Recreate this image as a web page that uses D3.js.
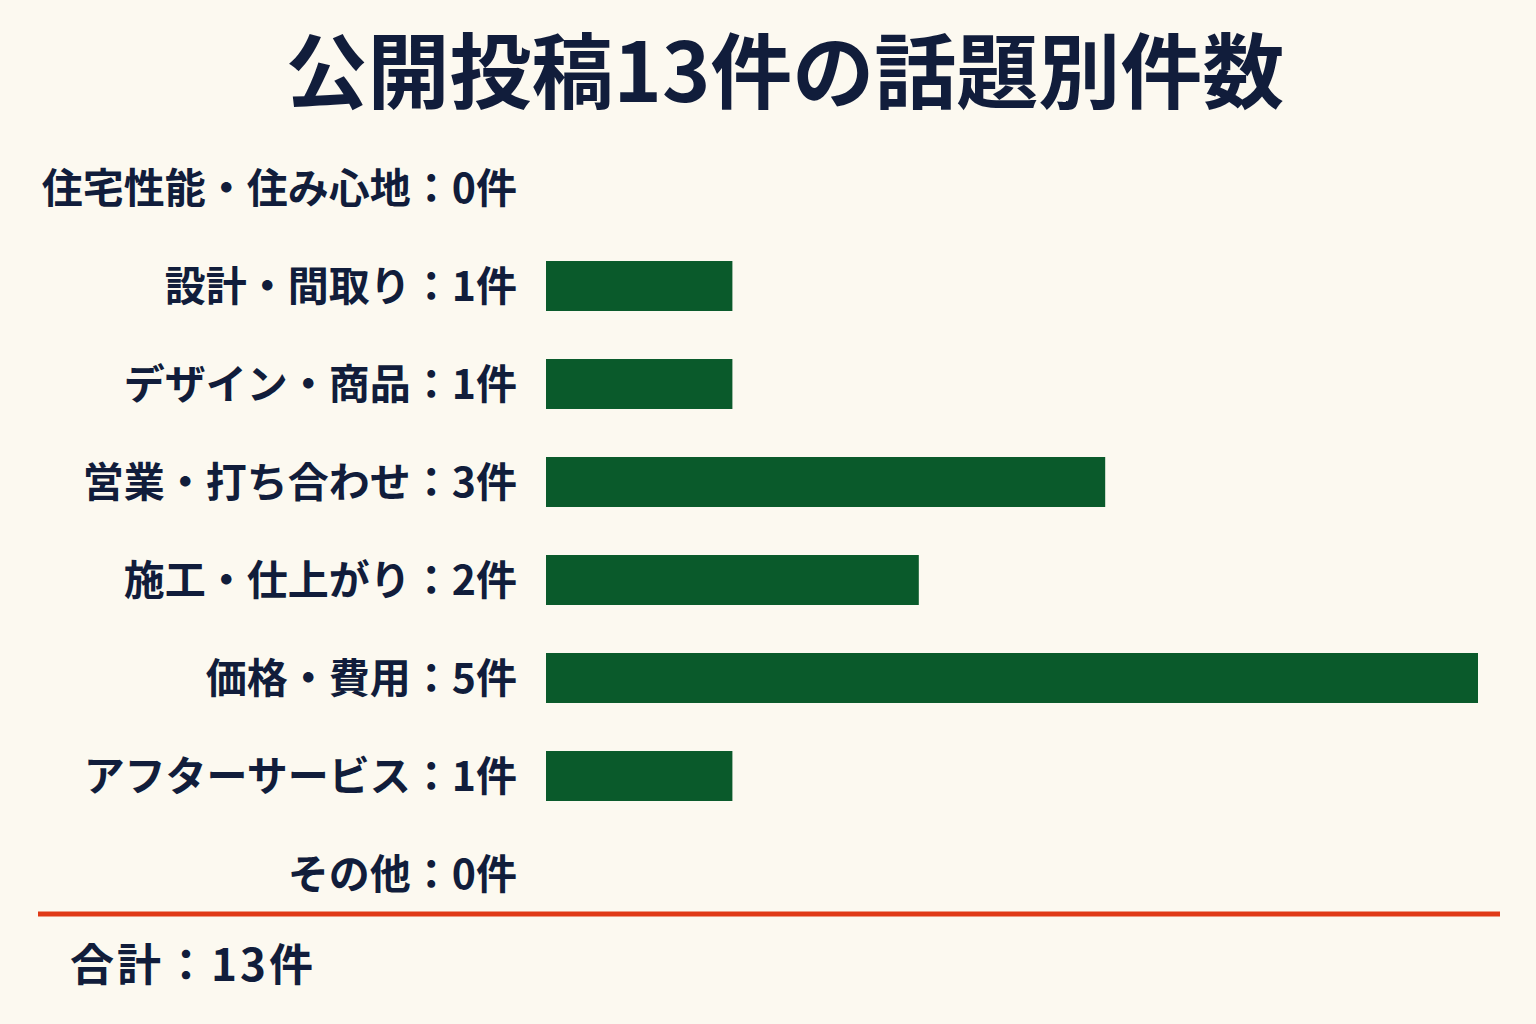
<!DOCTYPE html>
<html lang="ja">
<head>
  <meta charset="UTF-8">
  <title>公開投稿13件の話題別件数</title>
  <script src="https://d3js.org/d3.v7.min.js"></script>
  <style>
    body { margin: 0; background: #fcf9f0; }
    svg { display: block; }
    text { font-family: "Noto Sans CJK JP", "Noto Sans", sans-serif; font-weight: 700; fill: #111d3b; }
  </style>
</head>
<body>
  <svg></svg>
  <script>
    // data
    const categories = ["住宅性能・住み心地", "設計・間取り", "デザイン・商品", "営業・打ち合わせ",
                        "施工・仕上がり", "価格・費用", "アフターサービス", "その他"];
    const counts = [0, 1, 1, 3, 2, 5, 1, 0];
    const titleText = "公開投稿13件の話題別件数";
    const totalLabel = "合計";
    const unit = "件";

    const svgWidth = 1536;
    const svgHeight = 1024;

    const svg = d3.select("svg")
      .attr("width", svgWidth)
      .attr("height", svgHeight);

    svg.append("rect")
      .attr("width", svgWidth)
      .attr("height", svgHeight)
      .attr("fill", "#fcf9f0");

    // scales
    const xScale = d3.scaleLinear()
      .domain([0, d3.max(counts)])
      .range([546, 1478]);

    const yScale = d3.scaleBand()
      .domain(categories)
      .range([139, 923])
      .paddingInner(0.49)
      .paddingOuter(0.245);

    const rows = categories.map((c, i) => ({ name: c, value: counts[i] }));

    // title
    svg.append("text")
      .attr("x", 785)
      .attr("y", 102)
      .attr("text-anchor", "middle")
      .style("font-size", "82px")
      .text(titleText);

    // bars
    svg.selectAll(".bar")
      .data(rows.filter(d => d.value > 0))
      .enter().append("rect")
      .attr("class", "bar")
      .attr("x", xScale(0))
      .attr("y", d => yScale(d.name))
      .attr("width", d => xScale(d.value) - xScale(0))
      .attr("height", yScale.bandwidth())
      .attr("fill", "#0a5a2b");

    // labels
    svg.selectAll(".label")
      .data(rows)
      .enter().append("text")
      .attr("class", "label")
      .attr("x", 517)
      .attr("y", d => yScale(d.name) + yScale.bandwidth() / 2)
      .attr("dy", "0.36em")
      .attr("text-anchor", "end")
      .style("font-size", "41px")
      .text(d => `${d.name}：${d.value}${unit}`);

    // divider
    svg.append("line")
      .attr("x1", 38)
      .attr("x2", 1500)
      .attr("y1", 914)
      .attr("y2", 914)
      .attr("stroke", "#e03a17")
      .attr("stroke-width", 5);

    // total
    svg.append("text")
      .attr("x", 70)
      .attr("y", 981)
      .style("font-size", "44px")
      .style("letter-spacing", "3px")
      .text(`${totalLabel}：${d3.sum(counts)}${unit}`);
  </script>
</body>
</html>
